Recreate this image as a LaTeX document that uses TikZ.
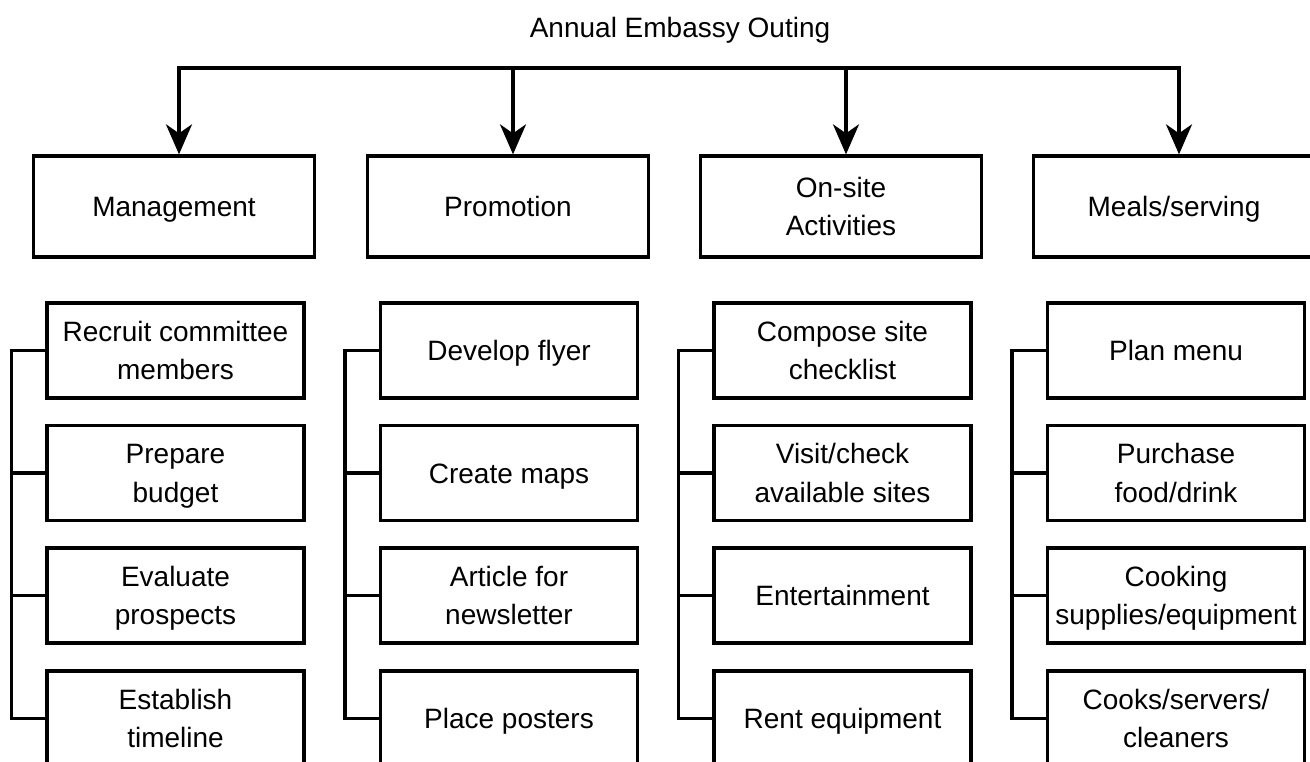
\documentclass[tikz,border=0pt]{standalone}
\usepackage{fontspec}
\setmainfont{Liberation Sans}
\usetikzlibrary{arrows.meta}
% uniform line strut so every text line sits on the same baseline grid
\newcommand{\lnstrut}{\rule[-7pt]{0pt}{34pt}}
\tikzset{
  lbl/.style={font=\fontsize{28}{38.5}\selectfont, text=black, align=center, inner sep=0pt},
  headbox/.style={lbl, draw, line width=3.3pt, minimum width=281pt, minimum height=101pt},
  taskbox/.style={lbl, draw, line width=3.3pt, minimum width=257pt, minimum height=95pt},
  wire/.style={line width=3.3pt},
  drop/.style={wire, -{Stealth[length=30pt,width=26pt,inset=9pt]}},
}
\begin{document}
\begin{tikzpicture}[x=1pt,y=-1pt]
\useasboundingbox (0,0) rectangle (1310,762);

% title
\node[lbl] (title) at (680,28) {\lnstrut Annual Embassy Outing};

% first level
\node[headbox] (h1) at (174,206.5) {\lnstrut Management};
\node[headbox] (h2) at (508,206.5) {\lnstrut Promotion};
\node[headbox] (h3) at (841,206.5) {\lnstrut On-site\\\lnstrut Activities};
\node[headbox] (h4) at (1174,206.5) {\lnstrut Meals/serving};

% distribution bus with arrows
\coordinate (busL) at (179,68);
\coordinate (busR) at (1179,68);
\draw[wire, line cap=rect] (busL) -- (busR);
\foreach \h in {h1,h2,h3,h4}
  \draw[drop] ([xshift=5pt]\h.north |- busL) -- ([xshift=5pt]\h.north);

% task boxes
\node[taskbox] (m1) at (175.5,350.5) {\lnstrut Recruit committee\\\lnstrut members};
\node[taskbox] (m2) at (175.5,473) {\lnstrut Prepare\\\lnstrut budget};
\node[taskbox] (m3) at (175.5,595.5) {\lnstrut Evaluate\\\lnstrut prospects};
\node[taskbox] (m4) at (175.5,718.5) {\lnstrut Establish\\\lnstrut timeline};

\node[taskbox] (p1) at (509,350.5) {\lnstrut Develop flyer};
\node[taskbox] (p2) at (509,473) {\lnstrut Create maps};
\node[taskbox] (p3) at (509,595.5) {\lnstrut Article for\\\lnstrut newsletter};
\node[taskbox] (p4) at (509,718.5) {\lnstrut Place posters};

\node[taskbox] (a1) at (842.5,350.5) {\lnstrut Compose site\\\lnstrut checklist};
\node[taskbox] (a2) at (842.5,473) {\lnstrut Visit/check\\\lnstrut available sites};
\node[taskbox] (a3) at (842.5,595.5) {\lnstrut Entertainment};
\node[taskbox] (a4) at (842.5,718.5) {\lnstrut Rent equipment};

\node[taskbox] (s1) at (1176,350.5) {\lnstrut Plan menu};
\node[taskbox] (s2) at (1176,473) {\lnstrut Purchase\\\lnstrut food/drink};
\node[taskbox] (s3) at (1176,595.5) {\lnstrut Cooking\\\lnstrut supplies/equipment};
\node[taskbox] (s4) at (1176,718.5) {\lnstrut Cooks/servers/\\\lnstrut cleaners};

% brackets joining each column of tasks
\foreach \c in {m,p,a,s}{
  \draw[wire] (\c1.west) -- ++(-34,0) |- (\c4.west);
  \draw[wire] (\c2.west) -- ++(-34,0);
  \draw[wire] (\c3.west) -- ++(-34,0);
}
\end{tikzpicture}
\end{document}
